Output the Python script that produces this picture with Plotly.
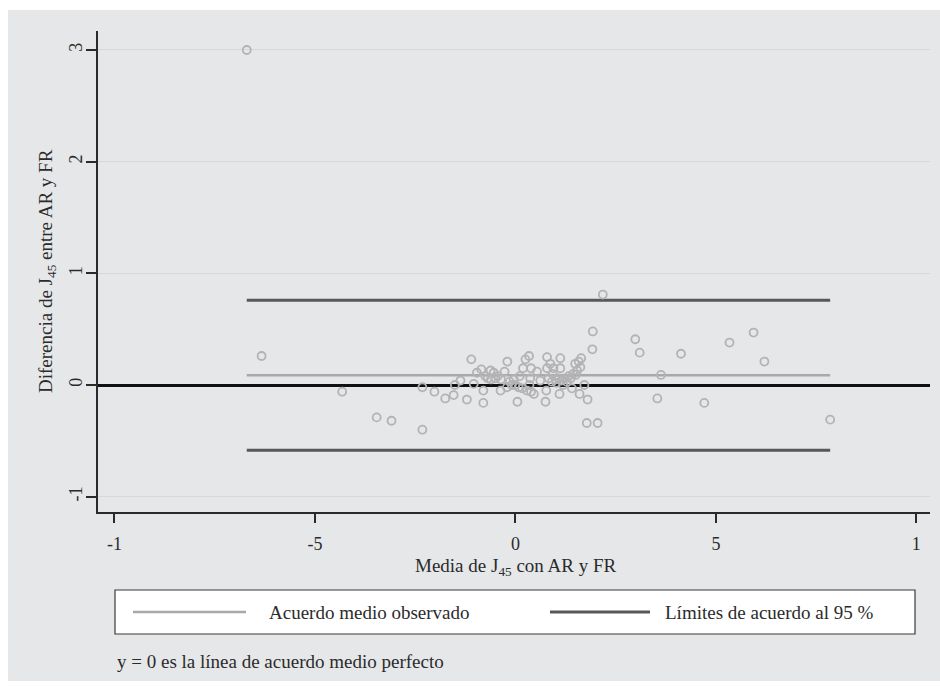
import plotly.graph_objects as go

# Bland-Altman data: mean of the two methods (x) and their difference (y)
media_j45 = [
    -6.70, -6.33, -4.32, -3.46, -3.09, -2.32, -2.32, -2.02, -1.75, -1.54,
    -1.51, -1.37, -1.21, -1.10, -1.04, -0.96, -0.85, -0.80, -0.80, -0.75,
    -0.69, -0.62, -0.61, -0.54, -0.50, -0.44, -0.37, -0.36, -0.27, -0.21,
    -0.20, -0.14, -0.09, -0.04, 0.00, 0.05, 0.08, 0.11, 0.17, 0.19,
    0.25, 0.29, 0.34, 0.35, 0.37, 0.39, 0.39, 0.46, 0.54, 0.62,
    0.75, 0.77, 0.79, 0.79, 0.83, 0.87, 0.91, 0.93, 0.95, 1.00,
    1.02, 1.08, 1.10, 1.12, 1.12, 1.15, 1.19, 1.23, 1.28, 1.33,
    1.38, 1.41, 1.44, 1.49, 1.50, 1.54, 1.58, 1.60, 1.62, 1.64,
    1.72, 1.78, 1.80, 1.92, 1.93, 2.05, 2.18, 2.99, 3.10, 3.54,
    3.63, 4.13, 4.71, 5.34, 5.94, 6.21, 7.85,
]
dif_j45 = [
    3.00, 0.26, -0.06, -0.29, -0.32, -0.40, -0.02, -0.06, -0.12, -0.09,
    0.00, 0.04, -0.13, 0.23, 0.01, 0.11, 0.14, -0.05, -0.16, 0.08,
    0.06, 0.13, 0.05, 0.11, 0.06, 0.08, -0.05, 0.05, 0.12, -0.02,
    0.21, 0.03, 0.00, 0.05, 0.00, -0.15, -0.02, 0.08, -0.03, 0.15,
    0.23, -0.05, 0.26, 0.00, 0.06, 0.15, -0.06, -0.08, 0.12, 0.04,
    -0.15, -0.05, 0.25, 0.15, 0.06, 0.19, 0.03, 0.10, 0.15, 0.05,
    0.02, 0.06, -0.08, 0.24, 0.15, 0.04, 0.00, 0.06, 0.03, 0.08,
    0.06, -0.03, 0.10, 0.19, 0.09, 0.13, 0.21, -0.08, 0.16, 0.24,
    0.00, -0.34, -0.13, 0.32, 0.48, -0.34, 0.81, 0.41, 0.29, -0.12,
    0.09, 0.28, -0.16, 0.38, 0.47, 0.21, -0.31,
]

acuerdo_medio = 0.087
limite_sup = 0.758
limite_inf = -0.584

x_ticks = [-10, -5, 0, 5, 10]
x_ticktext = ["-1", "-5", "0", "5", "1"]
y_ticks = [-1, 0, 1, 2, 3]
y_ticktext = ["-1", "0", "1", "2", "3"]

FONT = "Liberation Serif, DejaVu Serif, serif"
C_TEXT = "#2b2b2b"
C_POINT = "#b3b3b5"
C_MEAN = "#a9a9ab"
C_LIMIT = "#58585a"
C_BG = "#e6e7e9"

W, H = 940, 693
L, R, T, B = 98, 10, 31, 181
PW, PH = W - L - R, H - T - B


def px_x(p):
    return (p - L) / PW


def px_y(p):
    return (H - B - p) / PH


x_lo, x_hi = min(media_j45), max(media_j45)

fig = go.Figure()

fig.add_trace(go.Scatter(
    x=[x_lo, x_hi], y=[acuerdo_medio, acuerdo_medio], mode="lines",
    line=dict(color=C_MEAN, width=2.5), showlegend=False, hoverinfo="skip"))
for lim in (limite_sup, limite_inf):
    fig.add_trace(go.Scatter(
        x=[x_lo, x_hi], y=[lim, lim], mode="lines",
        line=dict(color=C_LIMIT, width=3), showlegend=False, hoverinfo="skip"))

fig.add_trace(go.Scatter(
    x=media_j45, y=dif_j45, mode="markers",
    marker=dict(symbol="circle-open", size=8, color=C_POINT,
                line=dict(width=1.8, color=C_POINT)),
    showlegend=False))

shapes = [
    # grey surround of the graph region
    dict(type="rect", xref="paper", yref="paper", layer="below",
         x0=px_x(8), x1=px_x(940), y0=px_y(681), y1=px_y(10),
         fillcolor=C_BG, line=dict(width=0)),
    # legend frame
    dict(type="rect", xref="paper", yref="paper",
         x0=px_x(115), x1=px_x(915), y0=px_y(634), y1=px_y(590),
         fillcolor="white", line=dict(color="#3a3a3a", width=1.2)),
    dict(type="line", xref="paper", yref="paper",
         x0=px_x(133), x1=px_x(246), y0=px_y(612), y1=px_y(612),
         line=dict(color=C_MEAN, width=2.5)),
    dict(type="line", xref="paper", yref="paper",
         x0=px_x(550), x1=px_x(650), y0=px_y(612), y1=px_y(612),
         line=dict(color=C_LIMIT, width=3)),
]

annotations = [
    dict(text="Media de J<sub>45</sub> con AR y FR", xref="paper", yref="paper",
         x=px_x(516), y=px_y(567), xanchor="center", yanchor="middle",
         showarrow=False, font=dict(family=FONT, size=19, color=C_TEXT)),
    dict(text="Diferencia de J<sub>45</sub> entre AR y FR", xref="paper", yref="paper",
         x=px_x(47), y=px_y(271), xanchor="center", yanchor="middle",
         textangle=-90, showarrow=False, font=dict(family=FONT, size=19, color=C_TEXT)),
    dict(text="Acuerdo medio observado", xref="paper", yref="paper",
         x=px_x(267), y=px_y(612), xanchor="left", yanchor="middle",
         showarrow=False, font=dict(family=FONT, size=19, color=C_TEXT)),
    dict(text="Límites de acuerdo al 95 %", xref="paper", yref="paper",
         x=px_x(663), y=px_y(612), xanchor="left", yanchor="middle",
         showarrow=False, font=dict(family=FONT, size=19, color=C_TEXT)),
    dict(text="y = 0 es la línea de acuerdo medio perfecto", xref="paper", yref="paper",
         x=px_x(115), y=px_y(661), xanchor="left", yanchor="middle",
         showarrow=False, font=dict(family=FONT, size=19, color=C_TEXT)),
]

fig.update_layout(
    width=W, height=H,
    margin=dict(l=L, r=R, t=T, b=B, pad=0),
    paper_bgcolor="white", plot_bgcolor="white",
    font=dict(family=FONT, size=18, color=C_TEXT),
    shapes=shapes, annotations=annotations,
    xaxis=dict(range=[-10.41, 10.34], tickvals=x_ticks, ticktext=x_ticktext,
               showgrid=False, zeroline=False, showline=True,
               linecolor="#2a2a2a", linewidth=1.6,
               ticks="outside", ticklen=9, tickwidth=1.5, tickcolor="#2a2a2a",
               ticklabelstandoff=6,
               tickfont=dict(family=FONT, size=18, color=C_TEXT)),
    yaxis=dict(range=[-1.137, 3.17], tickvals=y_ticks, ticktext=y_ticktext,
               tickangle=-90,
               showgrid=True, gridcolor="#d8d8d8", gridwidth=1,
               zeroline=True, zerolinecolor="#111", zerolinewidth=2.6,
               showline=True, linecolor="#2a2a2a", linewidth=1.6,
               ticks="outside", ticklen=10, tickwidth=1.5, tickcolor="#2a2a2a",
               ticklabelstandoff=-3,
               tickfont=dict(family=FONT, size=18, color=C_TEXT)),
)

fig.write_html("out.html")
